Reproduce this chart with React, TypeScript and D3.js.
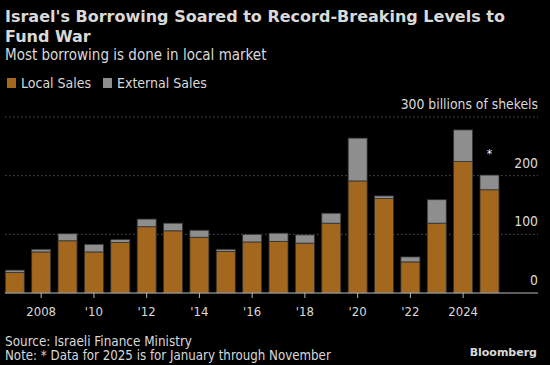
import React, { useEffect, useRef } from 'react';
import * as d3 from 'd3';

const years = ['2007', '2008', '2009', '2010', '2011', '2012', '2013', '2014', '2015', '2016', '2017', '2018', '2019', '2020', '2021', '2022', '2023', '2024', '2025'];
const localSales = [35, 70, 89, 70, 86, 113, 106, 95, 71, 87, 88, 85, 119, 191, 161, 53, 119, 224, 176];
const externalSales = [4, 4.5, 12, 13, 5, 13, 13, 12, 3.5, 13, 14, 14, 17, 73, 4.5, 8.5, 40, 54, 25];
const yTicks = [0, 100, 200, 300];
const xTickYears = ['2008', '2010', '2012', '2014', '2016', '2018', '2020', '2022', '2024'];
const xTickLabels = ['2008', "'10", "'12", "'14", "'16", "'18", "'20", "'22", '2024'];

const LOCAL = '#a4671e';
const EXTERNAL = '#8e8e8e';
const TEXT = '#d9d9d9';
const FONT = '"DejaVu Sans Condensed", "DejaVu Sans", sans-serif';

const W = 550;
const H = 365;

const App = () => {
  const svgRef = useRef<SVGSVGElement>(null);

  useEffect(() => {
    const svg = d3.select(svgRef.current);
    svg.selectAll('*').remove();

    svg.append('rect').attr('width', W).attr('height', H).attr('fill', '#000');

    // titles
    const title = svg.append('text').attr('font-family', '"DejaVu Sans", sans-serif')
      .attr('font-weight', 'bold').attr('font-size', 16).attr('fill', TEXT);
    title.append('tspan').attr('x', 5).attr('y', 22).text("Israel's Borrowing Soared to Record-Breaking Levels to");
    title.append('tspan').attr('x', 5).attr('y', 42).text('Fund War');
    svg.append('text').attr('x', 5).attr('y', 60).attr('font-family', FONT).attr('font-size', 15)
      .attr('fill', TEXT).text('Most borrowing is done in local market');

    // legend
    const legend = [
      { label: 'Local Sales', color: LOCAL, x: 7 },
      { label: 'External Sales', color: EXTERNAL, x: 103 },
    ];
    legend.forEach((l) => {
      svg.append('rect').attr('x', l.x).attr('y', 78).attr('width', 9).attr('height', 10).attr('fill', l.color);
      svg.append('text').attr('x', l.x + 14).attr('y', 88).attr('font-family', FONT).attr('font-size', 14)
        .attr('fill', TEXT).text(l.label);
    });

    const baseY = 293;
    const y = d3.scaleLinear().domain([0, 300]).range([baseY, 117]);
    const x = d3.scaleBand().domain(years).range([5.3, 499]).paddingInner(0.28).paddingOuter(0);

    // gridlines
    svg.append('g').selectAll('line').data(yTicks.filter((t) => t > 0)).enter().append('line')
      .attr('x1', 5).attr('x2', 538)
      .attr('y1', (d) => y(d)).attr('y2', (d) => y(d))
      .attr('stroke', '#555').attr('stroke-dasharray', '1.5,2.5');

    // right axis labels
    svg.append('g').selectAll('text').data(yTicks).enter().append('text')
      .attr('x', 538).attr('y', (d) => y(d) - 8)
      .attr('text-anchor', 'end').attr('font-family', FONT).attr('font-size', 13.8).attr('fill', TEXT)
      .text((d) => (d === 300 ? '300 billions of shekels' : String(d)));

    // stacked bars
    const data = years.map((yr, i) => ({ year: yr, local: localSales[i], external: externalSales[i] }));
    const stack = d3.stack<any>().keys(['local', 'external'])(data);
    const colors = [LOCAL, EXTERNAL];
    stack.forEach((layer, k) => {
      svg.append('g').selectAll('rect').data(layer).enter().append('rect')
        .attr('x', (d) => x(d.data.year)!)
        .attr('width', x.bandwidth())
        .attr('y', (d) => y(d[1]))
        .attr('height', (d) => y(d[0]) - y(d[1]))
        .attr('fill', colors[k])
        .attr('stroke', '#333').attr('stroke-width', 0.8);
    });

    // asterisk for 2025
    svg.append('text').attr('x', x('2025')! + x.bandwidth() / 2).attr('y', 158)
      .attr('text-anchor', 'middle').attr('font-family', FONT).attr('font-size', 12).attr('fill', '#eee').text('*');

    // baseline & ticks
    svg.append('line').attr('x1', 5).attr('x2', 538).attr('y1', baseY).attr('y2', baseY)
      .attr('stroke', '#bbb').attr('stroke-width', 1);
    svg.append('g').selectAll('line').data(xTickYears).enter().append('line')
      .attr('x1', (d) => x(d)! + x.bandwidth() / 2).attr('x2', (d) => x(d)! + x.bandwidth() / 2)
      .attr('y1', baseY).attr('y2', baseY + 5).attr('stroke', '#bbb');
    svg.append('g').selectAll('text').data(xTickYears).enter().append('text')
      .attr('x', (d) => x(d)! + x.bandwidth() / 2).attr('y', 316)
      .attr('text-anchor', 'middle').attr('font-family', FONT).attr('font-size', 13).attr('fill', TEXT)
      .text((d, i) => xTickLabels[i]);

    // footer
    svg.append('text').attr('x', 5).attr('y', 346).attr('font-family', FONT).attr('font-size', 13.4)
      .attr('fill', TEXT).text('Source: Israeli Finance Ministry');
    svg.append('text').attr('x', 5).attr('y', 360).attr('font-family', FONT).attr('font-size', 13.2)
      .attr('fill', TEXT).text('Note: * Data for 2025 is for January through November');
    svg.append('text').attr('x', 537).attr('y', 356).attr('text-anchor', 'end')
      .attr('font-family', '"DejaVu Sans", sans-serif').attr('font-weight', 'bold').attr('font-size', 11)
      .attr('fill', TEXT).text('Bloomberg');
  }, []);

  return (
    <svg ref={svgRef} width={W} height={H} style={{ position: 'absolute', left: 0, top: 0, display: 'block' }} />
  );
};

export default App;
